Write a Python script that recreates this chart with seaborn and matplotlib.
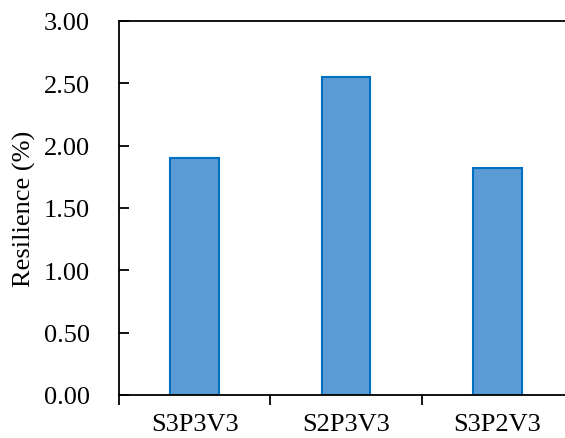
import matplotlib
matplotlib.use("Agg")
import matplotlib.pyplot as plt
import seaborn as sns
import pandas as pd

# chart values
categories = ["S3P3V3", "S2P3V3", "S3P2V3"]
resilience = [1.90, 2.55, 1.82]
y_ticks = [0.0, 0.5, 1.0, 1.5, 2.0, 2.5, 3.0]

df = pd.DataFrame({"group": categories, "resilience": resilience})

sns.set_style("ticks", {"text.color": "black", "xtick.color": "black",
                        "ytick.color": "black", "axes.labelcolor": "black",
                        "axes.edgecolor": "black"})
plt.rcParams["font.family"] = ["Liberation Serif", "DejaVu Serif"]

fig = plt.figure(figsize=(5.65, 4.39), dpi=100)
ax = fig.add_axes([0.2106, 0.098, 0.804, 0.852])

sns.barplot(data=df, x="group", y="resilience", color="#5B9BD5",
            edgecolor="#0070C0", linewidth=1.5, width=0.32, saturation=1, ax=ax)

ax.set_ylim(0, 3.0)
ax.set_xlim(-0.5, 2.5)
ax.set_yticks(y_ticks)
ax.set_yticklabels([f"{v:.2f}" for v in y_ticks])
ax.set_xlabel("")
ax.set_ylabel("Resilience (%)", fontsize=19)
ax.yaxis.set_label_coords(-0.182, 0.5)

# category boundary ticks on x
ax.set_xticks([-0.5, 0.5, 1.5], minor=True)
ax.tick_params(axis="x", which="major", length=0, labelsize=19, pad=13)
ax.tick_params(axis="x", which="minor", bottom=True, direction="out",
               length=7, width=1.3, color="black")
ax.tick_params(axis="y", which="major", left=True, right=False, direction="in",
               length=7, width=1.3, color="black", labelsize=19, pad=21)

for side in ["left", "bottom", "top"]:
    ax.spines[side].set_visible(True)
    ax.spines[side].set_color("black")
    ax.spines[side].set_linewidth(1.3)
ax.spines["right"].set_visible(False)

fig.savefig("out.png", dpi=100)
